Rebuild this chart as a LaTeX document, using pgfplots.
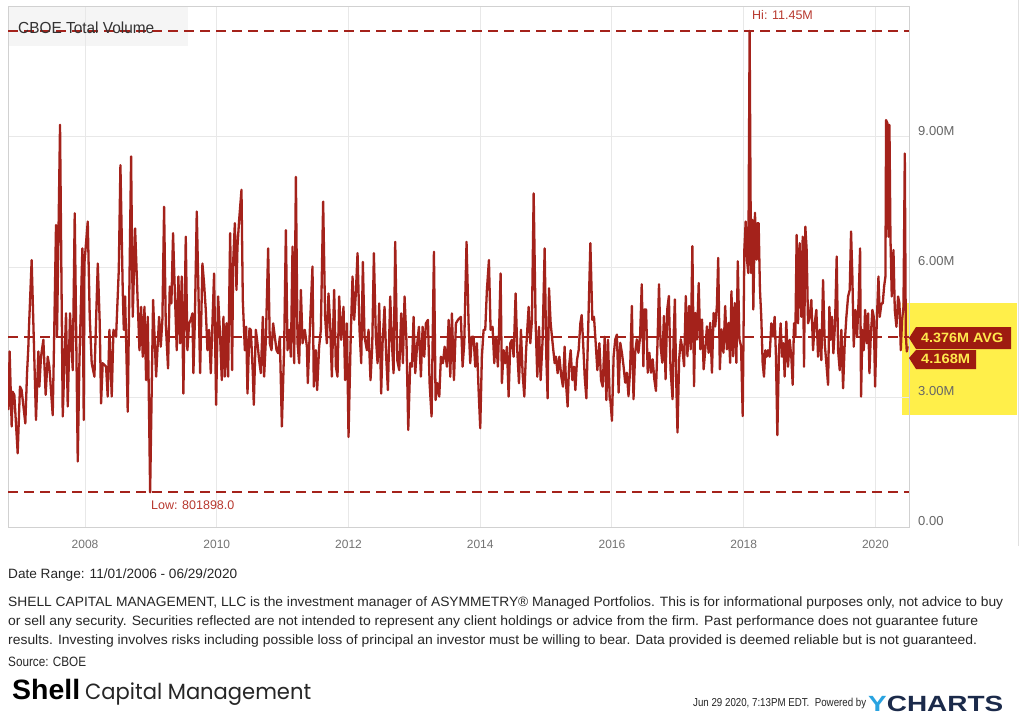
\documentclass[border=0pt]{standalone}
\usepackage{pgfplots}
\pgfplotsset{compat=1.18}
\usepackage{fontspec}
\setmainfont{Liberation Sans}
\newfontfamily\poppins{Poppins}
\definecolor{ln}{HTML}{A4221B}
\definecolor{lbl}{HTML}{B8392F}
\definecolor{tag}{HTML}{9E1B10}
\definecolor{tagtxt}{HTML}{FFE94D}
\definecolor{hl}{HTML}{FFEF4A}
\definecolor{ylight}{HTML}{29A3E0}
\definecolor{ynavy}{HTML}{1B2A4A}
\begin{document}
\begin{tikzpicture}[x=1pt,y=1pt]
\path[use as bounding box] (0,0) rectangle (1024,716);
\fill[white] (0,0) rectangle (1024,716);
% highlight box
\fill[hl] (902,301) rectangle (1017,413);
% title box
\fill[black!4] (8,670) rectangle (188,709);
\draw[black!12, line width=1pt] (1018.5,716) -- (1018.5,170);
\begin{axis}[
  at={(8pt,189pt)}, anchor=south west,
  width=901pt, height=520pt, scale only axis,
  xmin=2006.83, xmax=2020.51, ymin=0, ymax=12,
  axis line style={draw=black!18, line width=1pt},
  grid=major, major grid style={draw=black!9, line width=1pt},
  xtick={2008,2010,2012,2014,2016,2018,2020},
  xticklabels={2008,2010,2012,2014,2016,2018,2020},
  ytick={0,3,6,9},
  yticklabels={0.00,3.00M,6.00M,9.00M},
  yticklabel pos=right,
  major tick length=0pt,
  xticklabel style={font=\fontsize{12}{14}\selectfont, text=black!55, anchor=north, inner sep=0pt, yshift=-13pt},
  yticklabel style={font=\fontsize{13}{15}\selectfont, text=black!60, anchor=south west, inner sep=0pt, xshift=9pt, yshift=1pt},
]
\addplot[ln, line width=2.2pt, dash pattern=on 10pt off 6pt, forget plot] coordinates {(2006.83,4.376) (2020.51,4.376)};
\addplot[ln, line width=2.2pt, dash pattern=on 10pt off 6pt, forget plot] coordinates {(2006.83,11.45) (2020.51,11.45)};
\addplot[ln, line width=2.2pt, dash pattern=on 10pt off 6pt, forget plot] coordinates {(2006.83,0.802) (2020.51,0.802)};
\addplot[ln, line width=2.3pt, line join=round] coordinates {
(2006.835,2.70) (2006.855,4.05) (2006.886,2.32) (2006.901,3.12) (2006.926,3.05) (2006.977,1.70) (2007.012,3.24) (2007.037,3.16) (2007.093,2.39) (2007.119,3.55) (2007.139,4.16) (2007.149,4.62) (2007.189,6.16) (2007.255,2.47) (2007.291,4.05) (2007.306,3.24) (2007.331,3.93) (2007.367,4.32) (2007.402,3.05) (2007.433,3.93) (2007.458,3.70) (2007.509,2.58) (2007.529,4.24) (2007.559,6.97) (2007.574,4.39) (2007.620,9.28) (2007.661,2.55) (2007.711,4.93) (2007.737,2.78) (2007.772,4.93) (2007.813,3.62) (2007.843,7.24) (2007.889,1.51) (2007.914,3.78) (2007.959,6.43) (2007.980,2.47) (2007.990,6.08) (2008.041,7.05) (2008.071,4.85) (2008.101,3.78) (2008.142,3.47) (2008.193,6.08) (2008.223,4.70) (2008.243,2.85) (2008.268,3.78) (2008.319,3.70) (2008.344,3.01) (2008.370,4.55) (2008.405,3.01) (2008.431,4.55) (2008.471,4.39) (2008.512,5.93) (2008.537,8.35) (2008.572,5.47) (2008.588,4.55) (2008.608,5.32) (2008.648,2.66) (2008.699,8.55) (2008.724,4.85) (2008.760,6.89) (2008.800,5.16) (2008.826,4.08) (2008.851,5.08) (2008.876,3.93) (2008.902,5.08) (2008.927,3.39) (2008.952,4.85) (2008.988,0.80) (2009.033,5.24) (2009.079,3.47)
(2009.124,4.85) (2009.149,4.16) (2009.174,4.78) (2009.200,7.39) (2009.225,4.70) (2009.260,3.66) (2009.286,5.55) (2009.311,5.16) (2009.336,6.78) (2009.362,5.47) (2009.392,4.08) (2009.417,5.78) (2009.443,4.24) (2009.468,5.78) (2009.493,3.08) (2009.529,6.70) (2009.554,4.08) (2009.580,4.70) (2009.605,4.78) (2009.630,4.93) (2009.645,3.55) (2009.666,4.70) (2009.696,7.28) (2009.721,5.47) (2009.747,3.55) (2009.782,6.08) (2009.807,5.62) (2009.833,5.01) (2009.858,4.08) (2009.883,4.55) (2009.909,3.55) (2009.934,4.70) (2009.959,5.85) (2009.990,2.82) (2010.020,5.32) (2010.046,4.55) (2010.076,3.39) (2010.101,4.85) (2010.122,3.47) (2010.147,4.70) (2010.172,3.47) (2010.203,6.78) (2010.233,3.62) (2010.248,6.08) (2010.274,7.01) (2010.299,5.47) (2010.314,6.47) (2010.339,7.08) (2010.375,7.78) (2010.395,5.24) (2010.426,4.08) (2010.446,4.62) (2010.466,3.08) (2010.496,4.58) (2010.517,4.55) (2010.547,3.55) (2010.562,2.82) (2010.593,4.55) (2010.618,4.24) (2010.643,3.85) (2010.669,3.55) (2010.699,4.85) (2010.719,3.47) (2010.745,4.32) (2010.780,6.43) (2010.805,4.24) (2010.831,4.08) (2010.856,4.70) (2010.881,4.39) (2010.907,4.08) (2010.932,4.01) (2010.957,4.39) (2010.988,2.32) (2011.023,4.16) (2011.049,6.85) (2011.074,4.08) (2011.099,4.55) (2011.125,3.93) (2011.150,6.47) (2011.175,3.78) (2011.201,8.08) (2011.226,4.24) (2011.251,3.78) (2011.277,5.47) (2011.302,4.24) (2011.337,4.55) (2011.368,4.16)
(2011.382,3.32) (2011.417,4.70) (2011.453,6.01) (2011.473,3.24) (2011.504,4.08) (2011.524,3.16) (2011.554,4.16) (2011.580,4.55) (2011.615,7.51) (2011.645,4.85) (2011.671,4.24) (2011.696,5.39) (2011.721,4.70) (2011.747,3.47) (2011.782,5.47) (2011.808,3.70) (2011.833,3.47) (2011.858,5.32) (2011.889,4.32) (2011.924,5.08) (2011.949,3.39) (2011.975,4.70) (2012.000,2.08) (2012.035,4.47) (2012.061,5.78) (2012.086,4.78) (2012.111,5.39) (2012.137,6.32) (2012.167,4.55) (2012.193,3.78) (2012.218,6.12) (2012.243,4.39) (2012.279,4.08) (2012.304,4.55) (2012.334,3.39) (2012.360,4.16) (2012.385,6.32) (2012.415,4.39) (2012.441,3.78) (2012.466,5.16) (2012.496,3.08) (2012.517,4.24) (2012.547,5.08) (2012.572,3.93) (2012.598,3.16) (2012.633,5.32) (2012.659,4.24) (2012.684,3.55) (2012.709,6.58) (2012.740,3.85) (2012.770,3.62) (2012.800,4.93) (2012.826,3.78) (2012.851,5.32) (2012.881,4.24) (2012.907,2.24) (2012.937,3.78) (2012.963,3.70) (2012.988,4.85) (2013.013,3.55) (2013.044,4.24) (2013.069,4.62) (2013.099,3.47) (2013.125,4.62) (2013.150,3.93) (2013.175,4.70) (2013.206,4.78) (2013.231,3.32) (2013.261,2.55) (2013.297,6.35) (2013.322,2.93) (2013.348,3.32) (2013.378,3.01) (2013.403,3.93) (2013.434,3.78) (2013.459,4.16) (2013.494,3.70) (2013.520,4.78) (2013.545,3.47) (2013.570,4.93) (2013.601,3.39) (2013.631,4.70) (2013.662,4.78)
(2013.706,4.85) (2013.732,3.70) (2013.757,4.24) (2013.792,6.58) (2013.823,4.70) (2013.848,3.78) (2013.873,4.39) (2013.899,4.39) (2013.924,3.70) (2013.949,4.24) (2013.975,3.16) (2014.000,2.28) (2014.025,3.93) (2014.051,4.55) (2014.076,4.55) (2014.101,5.47) (2014.132,6.16) (2014.157,4.55) (2014.187,4.62) (2014.213,3.78) (2014.238,4.39) (2014.268,3.70) (2014.289,4.70) (2014.309,5.85) (2014.329,3.32) (2014.355,4.08) (2014.380,3.78) (2014.405,4.16) (2014.431,3.01) (2014.456,4.24) (2014.481,4.32) (2014.507,3.93) (2014.537,5.39) (2014.562,4.08) (2014.588,3.32) (2014.618,4.55) (2014.643,3.55) (2014.669,3.01) (2014.694,4.01) (2014.714,4.55) (2014.735,5.08) (2014.760,4.24) (2014.785,4.78) (2014.811,7.70) (2014.841,4.70) (2014.866,3.47) (2014.892,4.62) (2014.917,3.39) (2014.947,4.32) (2014.978,6.43) (2015.003,3.93) (2015.023,2.97) (2015.044,5.51) (2015.069,4.70) (2015.099,4.24) (2015.130,3.78) (2015.150,3.93) (2015.175,3.55) (2015.201,3.93) (2015.231,3.47) (2015.256,3.24) (2015.281,4.16) (2015.302,3.32) (2015.327,2.78) (2015.348,3.70) (2015.373,4.08) (2015.398,3.39) (2015.423,3.70) (2015.444,3.16) (2015.469,3.85) (2015.494,4.08) (2015.520,4.70) (2015.540,4.89) (2015.560,4.32) (2015.586,3.47) (2015.611,2.97) (2015.636,4.39) (2015.672,6.55) (2015.702,4.78) (2015.727,4.85) (2015.753,4.24) (2015.778,3.62) (2015.809,4.24) (2015.834,3.39) (2015.859,3.24) (2015.890,4.39) (2015.915,2.93) (2015.940,4.32) (2015.966,2.93)
(2015.975,2.95) (2016.000,2.45) (2016.025,3.94) (2016.050,4.33) (2016.075,4.44) (2016.101,3.10) (2016.126,4.25) (2016.151,4.02) (2016.176,3.71) (2016.201,3.33) (2016.226,3.56) (2016.251,3.02) (2016.276,3.64) (2016.302,5.10) (2016.327,2.95) (2016.352,4.02) (2016.377,4.33) (2016.402,4.02) (2016.427,4.40) (2016.452,5.60) (2016.477,3.71) (2016.492,5.02) (2016.518,5.02) (2016.543,3.56) (2016.568,4.02) (2016.593,3.56) (2016.618,3.87) (2016.643,3.41) (2016.668,3.14) (2016.693,4.33) (2016.714,5.60) (2016.739,4.17) (2016.764,3.79) (2016.789,4.87) (2016.814,3.41) (2016.839,5.02) (2016.864,5.33) (2016.889,3.64) (2016.920,2.95) (2016.935,4.33) (2016.955,5.25) (2016.975,3.41) (2016.995,2.18) (2017.020,3.87) (2017.045,4.33) (2017.070,4.10) (2017.095,3.71) (2017.121,5.33) (2017.146,3.94) (2017.171,5.10) (2017.196,4.10) (2017.221,6.48) (2017.246,3.25) (2017.266,4.94) (2017.291,4.33) (2017.317,5.63) (2017.342,4.10) (2017.367,4.79) (2017.392,3.64) (2017.417,4.10) (2017.442,4.63) (2017.467,4.02) (2017.492,4.71) (2017.518,3.56) (2017.543,4.94) (2017.568,4.63) (2017.593,5.10) (2017.613,6.21) (2017.638,3.64) (2017.663,4.56) (2017.693,4.02) (2017.719,5.10) (2017.744,4.10) (2017.769,4.71) (2017.794,3.79) (2017.814,5.44) (2017.839,3.94) (2017.864,5.17) (2017.889,3.79) (2017.910,6.13) (2017.935,4.33) (2017.960,4.17) (2017.985,2.56) (2018.010,6.40) (2018.030,7.05) (2018.050,6.17) (2018.070,5.86) (2018.090,11.45) (2018.111,5.86) (2018.131,7.09) (2018.146,5.02) (2018.171,7.25) (2018.196,6.17)
(2018.207,7.01) (2018.227,7.01) (2018.247,5.47) (2018.267,4.85) (2018.288,3.78) (2018.308,3.47) (2018.328,4.08) (2018.349,3.93) (2018.369,4.08) (2018.394,3.93) (2018.419,4.70) (2018.445,4.39) (2018.470,4.85) (2018.490,3.93) (2018.511,2.12) (2018.536,4.08) (2018.561,4.70) (2018.582,3.93) (2018.602,4.24) (2018.622,3.47) (2018.647,4.74) (2018.673,3.70) (2018.698,4.32) (2018.723,3.93) (2018.744,3.28) (2018.764,4.70) (2018.784,4.39) (2018.804,6.74) (2018.825,4.70) (2018.850,6.55) (2018.875,4.85) (2018.896,6.70) (2018.916,3.70) (2018.936,6.93) (2018.956,6.39) (2018.977,4.70) (2019.002,4.85) (2019.027,5.24) (2019.053,4.08) (2019.078,4.70) (2019.103,5.01) (2019.129,3.93) (2019.154,4.55) (2019.179,3.85) (2019.205,5.70) (2019.230,4.24) (2019.255,3.78) (2019.281,3.28) (2019.301,5.08) (2019.321,4.32) (2019.341,4.85) (2019.362,4.01) (2019.387,4.70) (2019.412,6.24) (2019.433,4.08) (2019.458,3.62) (2019.483,4.55) (2019.509,3.20) (2019.534,4.24) (2019.559,4.85) (2019.585,5.32) (2019.610,5.47) (2019.630,6.82) (2019.650,5.78) (2019.671,4.16) (2019.696,5.01) (2019.721,4.39) (2019.747,5.32) (2019.767,6.43) (2019.782,3.01) (2019.802,4.55) (2019.823,4.08) (2019.843,5.01) (2019.868,4.24) (2019.889,4.93) (2019.909,3.55) (2019.929,4.39) (2019.954,5.01) (2019.975,4.85) (2019.995,3.24) (2020.020,4.70) (2020.046,5.78) (2020.066,4.85) (2020.091,5.16) (2020.111,5.16) (2020.132,5.55) (2020.152,5.78) (2020.162,9.39) (2020.182,9.32) (2020.198,6.70) (2020.213,9.28) (2020.228,6.70) (2020.248,5.32) (2020.274,6.39) (2020.294,5.01) (2020.319,4.62) (2020.344,5.32) (2020.365,5.16) (2020.385,4.08) (2020.405,4.78) (2020.426,5.08) (2020.446,8.62) (2020.461,4.47) (2020.476,4.05) (2020.490,4.168)
};
\end{axis}
% title text
\node[anchor=west, inner sep=0pt, text=black!80] at (18,688) {\resizebox{136pt}{\height}{\fontsize{16}{18}\selectfont CBOE Total Volume}};
% hi / low labels
\node[anchor=west, inner sep=0pt, font=\fontsize{12.5}{14}\selectfont, text=lbl] at (752,701) {Hi: 11.45M};
\node[anchor=west, inner sep=0pt, font=\fontsize{12.5}{14}\selectfont, text=lbl] at (151,211) {Low: 801898.0};
% tags
\fill[tag] (909,378) -- (916,389) -- (1011,389) -- (1011,367) -- (916,367) -- cycle;
\node[anchor=west, inner sep=0pt, text=tagtxt] at (921,378) {\resizebox{82pt}{\height}{\bfseries\fontsize{13.5}{15}\selectfont 4.376M AVG}};
\fill[tag] (909,358) -- (916,366) -- (976,366) -- (976,347) -- (916,347) -- cycle;
\node[anchor=west, inner sep=0pt, text=tagtxt] at (921,357) {\resizebox{49pt}{\height}{\bfseries\fontsize{13.5}{15}\selectfont 4.168M}};
% footer
\node[anchor=west, inner sep=0pt, text=black!85] at (8,141) {\resizebox{229pt}{\height}{\fontsize{13.5}{16}\selectfont Date Range: 11/01/2006 - 06/29/2020}};
\node[anchor=west, inner sep=0pt, text=black!85] at (8,113) {\resizebox{995pt}{\height}{\fontsize{13.5}{16}\selectfont SHELL CAPITAL MANAGEMENT, LLC is the investment manager of ASYMMETRY® Managed Portfolios. This is for informational purposes only, not advice to buy}};
\node[anchor=west, inner sep=0pt, text=black!85] at (8,94) {\resizebox{970pt}{\height}{\fontsize{13.5}{16}\selectfont or sell any security. Securities reflected are not intended to represent any client holdings or advice from the firm. Past performance does not guarantee future}};
\node[anchor=west, inner sep=0pt, text=black!85] at (8,75) {\resizebox{969pt}{\height}{\fontsize{13.5}{16}\selectfont results. Investing involves risks including possible loss of principal an investor must be willing to bear. Data provided is deemed reliable but is not guaranteed.}};
\node[anchor=west, inner sep=0pt, text=black!85] at (8,54) {\resizebox{78pt}{\height}{\fontsize{13.5}{16}\selectfont Source: CBOE}};
% logo
\node[anchor=base west, inner sep=0pt, text=black] at (12,17) {\resizebox{68pt}{\height}{\fontsize{28}{30}\selectfont\bfseries Shell}};
\node[anchor=base west, inner sep=0pt, text=black!85] at (85,17) {\resizebox{226pt}{\height}{\poppins\fontsize{22}{26}\selectfont Capital Management}};
% footer right
\node[anchor=west, inner sep=0pt, text=black!85] at (693,12) {\resizebox{173pt}{\height}{\fontsize{11.5}{13}\selectfont Jun 29 2020, 7:13PM EDT.\ \ Powered by}};
\node[anchor=west, inner sep=0pt] at (868,12) {\resizebox{135pt}{\height}{\fontsize{22}{24}\selectfont\bfseries\textcolor{ylight}{Y}\textcolor{ynavy}{CHARTS}}};
\end{tikzpicture}
\end{document}
